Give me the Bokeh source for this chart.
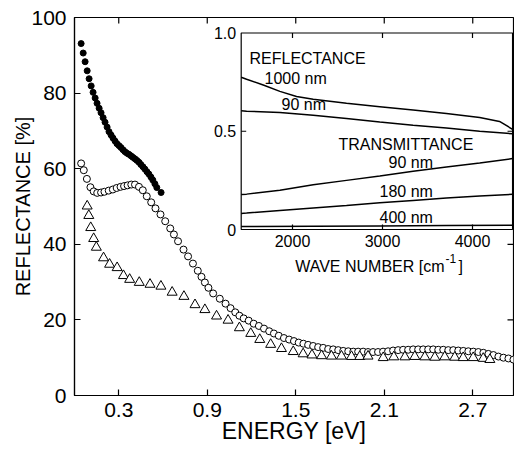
import math
from bokeh.plotting import figure
from bokeh.models import Range1d, FixedTicker
from bokeh.embed import file_html
from bokeh.resources import INLINE
from bokeh.core.properties import value

FONT = "Liberation Sans"

# ---------------- main panel data (energy eV, reflectance %) ----------------
filled_E = [0.045, 0.059, 0.072, 0.086, 0.099, 0.113, 0.126, 0.140, 0.153, 0.167,
            0.180, 0.194, 0.207, 0.221, 0.234, 0.248, 0.261, 0.275, 0.288, 0.302,
            0.315, 0.329, 0.342, 0.356, 0.369, 0.383, 0.396, 0.410, 0.423, 0.437,
            0.450, 0.464, 0.477, 0.491, 0.504, 0.518, 0.531, 0.545, 0.558, 0.587]
filled_R = [93.1, 90.6, 88.3, 85.9, 83.8, 81.9, 80.2, 78.7, 77.3, 76.0,
            74.8, 73.5, 72.3, 71.0, 69.8, 68.9, 68.1, 67.3, 66.6, 66.1,
            65.6, 65.0, 64.5, 64.1, 63.8, 63.4, 63.0, 62.6, 62.2, 61.7,
            61.1, 60.5, 59.9, 59.2, 58.6, 57.8, 57.0, 56.0, 55.0, 53.7]

open_E = [0.045, 0.063, 0.084, 0.108, 0.130, 0.154, 0.180, 0.203, 0.232, 0.260,
          0.286, 0.312, 0.336, 0.360, 0.385, 0.410, 0.437, 0.463, 0.490, 0.520,
          0.549, 0.583, 0.615, 0.649, 0.674, 0.702, 0.739, 0.770, 0.803, 0.836,
          0.861, 0.884, 0.908, 0.940, 0.985, 1.024, 1.058, 1.090, 1.118, 1.147,
          1.181, 1.215, 1.250, 1.285, 1.320, 1.352, 1.385, 1.420, 1.455, 1.488,
          1.520, 1.552, 1.584, 1.618, 1.652, 1.686, 1.720, 1.754, 1.788, 1.822,
          1.856, 1.890, 1.923, 1.957, 1.990, 2.024, 2.058, 2.092, 2.126, 2.160,
          2.194, 2.228, 2.262, 2.296, 2.330, 2.364, 2.398, 2.432, 2.466, 2.500,
          2.534, 2.568, 2.602, 2.636, 2.670, 2.704, 2.738, 2.772, 2.806, 2.840,
          2.874, 2.908, 2.942, 2.976]
open_R = [61.4, 59.6, 57.3, 55.1, 54.0, 53.6, 53.7, 53.9, 54.2, 54.5,
          54.9, 55.2, 55.4, 55.6, 55.8, 55.8, 55.2, 54.3, 52.7, 51.1,
          49.5, 47.9, 46.1, 44.2, 42.6, 40.8, 38.6, 36.8, 34.9, 33.0,
          31.4, 29.9, 28.5, 27.0, 25.6, 24.3, 23.1, 22.0, 21.1, 20.4,
          19.8, 19.0, 18.4, 17.7, 17.0, 16.4, 15.8, 15.2, 14.8, 14.4,
          14.0, 13.7, 13.4, 13.1, 12.8, 12.6, 12.3, 12.2, 12.0, 11.8,
          11.7, 11.6, 11.6, 11.6, 11.5, 11.5, 11.5, 11.6, 11.7, 11.9,
          12.0, 12.1, 12.1, 12.2, 12.2, 12.2, 12.2, 12.2, 12.1, 12.1,
          12.0, 12.0, 11.9, 11.8, 11.7, 11.6, 11.5, 11.3, 11.0, 10.7,
          10.3, 10.0, 9.8, 9.5]

tri_E = [0.086, 0.097, 0.110, 0.130, 0.148, 0.197, 0.238, 0.289, 0.332, 0.374,
         0.439, 0.512, 0.586, 0.662, 0.742, 0.817, 0.884, 0.963, 1.041, 1.118,
         1.195, 1.256, 1.330, 1.403, 1.483, 1.550, 1.610, 1.675, 1.742, 1.810,
         1.878, 1.934, 1.990, 2.093, 2.165, 2.240, 2.307, 2.375, 2.443, 2.510,
         2.578, 2.635, 2.703, 2.771, 2.816]
tri_R = [50.1, 47.6, 44.4, 41.5, 39.2, 36.4, 34.7, 33.8, 31.7, 30.7,
         29.9, 29.4, 28.9, 27.3, 26.2, 24.0, 22.7, 21.0, 19.9, 17.9,
         16.4, 14.8, 13.5, 12.4, 11.6, 11.0, 10.7, 10.5, 10.4, 10.4,
         10.3, 10.3, 10.4, 10.0, 10.2, 10.2, 10.3, 10.2, 10.1, 10.2,
         10.1, 10.0, 10.0, 9.8, 9.5]

x_ticks = [0.3, 0.9, 1.5, 2.1, 2.7]
y_ticks = [0, 20, 40, 60, 80, 100]

# ---------------- inset data (wave number cm-1, fraction) ----------------
wn_R1000 = [1430, 1490, 1675, 1860, 2045, 2230, 2600, 2970, 3340, 3710, 4080, 4300, 4445]
R1000 = [0.775, 0.765, 0.735, 0.703, 0.677, 0.663, 0.642, 0.625, 0.608, 0.590, 0.570, 0.550, 0.510]
wn_R90 = [1430, 1490, 1860, 2230, 2600, 2970, 3340, 3710, 4080, 4445]
R90 = [0.604, 0.602, 0.595, 0.582, 0.565, 0.547, 0.531, 0.517, 0.500, 0.487]
wn_T90 = [1430, 1490, 1860, 2230, 2600, 2970, 3340, 3710, 4080, 4445]
T90 = [0.178, 0.180, 0.200, 0.228, 0.250, 0.272, 0.296, 0.318, 0.338, 0.361]
wn_T180 = [1430, 1490, 1860, 2230, 2600, 2970, 3340, 3710, 4080, 4445]
T180 = [0.082, 0.084, 0.097, 0.110, 0.122, 0.136, 0.148, 0.160, 0.170, 0.179]
wn_T400 = [1430, 2230, 2970, 3710, 4445]
T400 = [0.015, 0.016, 0.018, 0.020, 0.022]

inset_xticks = [2000, 3000, 4000]
inset_xlabels = ["2000", "3000", "4000"]
inset_yticks = [0, 0.5, 1.0]
inset_ylabels = ["0", "0.5", "1.0"]
inset_xlim = [1430, 4445]
inset_ylim = [0, 1]

inset_texts = ["REFLECTANCE", "1000 nm", "90 nm", "TRANSMITTANCE", "90 nm", "180 nm", "400 nm"]
inset_text_x = [1522, 1689, 1878, 2511, 3067, 2967, 2967]
inset_text_y = [0.872, 0.770, 0.638, 0.434, 0.342, 0.194, 0.061]

# ---------------- layout ----------------
FRAME_W, FRAME_H = 439, 378
PX_PER_EV = 147.5
PX_PER_R = 3.78
PX_PER_WN = 0.09
PX_PER_FRAC = 196.5
WN_REF_PX = 218            # pixel offset of 2000 cm-1 from frame left
ZERO_PX_FROM_BOTTOM = 166  # pixel offset of inset 0 from frame bottom

p = figure(frame_width=FRAME_W, frame_height=FRAME_H, output_backend="svg", toolbar_location=None,
           x_range=Range1d(0, FRAME_W / PX_PER_EV), y_range=Range1d(0, FRAME_H / PX_PER_R),
           min_border_left=74, min_border_right=1, min_border_top=17, min_border_bottom=30)
p.background_fill_color = "white"
p.border_fill_color = "white"
p.grid.visible = False
p.outline_line_color = "black"
p.outline_line_width = 1.2

ix0 = 2000 - WN_REF_PX / PX_PER_WN
iy0 = -ZERO_PX_FROM_BOTTOM / PX_PER_FRAC
p.extra_x_ranges = {"ix": Range1d(ix0, ix0 + FRAME_W / PX_PER_WN)}
p.extra_y_ranges = {"iy": Range1d(iy0, iy0 + FRAME_H / PX_PER_FRAC)}

for ax in (p.xaxis[0], p.yaxis[0]):
    ax.axis_line_color = "black"
    ax.axis_line_width = 1.2
    ax.major_tick_in = 6
    ax.major_tick_out = 0
    ax.minor_tick_line_color = None
    ax.major_tick_line_color = "black"
    ax.major_tick_line_width = 1.2
    ax.major_label_text_font = FONT
    ax.major_label_text_font_size = "21px"
    ax.major_label_text_color = "black"
    ax.axis_label_text_font = FONT
    ax.axis_label_text_font_style = "normal"
    ax.axis_label_text_color = "black"

p.xaxis.ticker = FixedTicker(ticks=x_ticks)
p.yaxis.ticker = FixedTicker(ticks=y_ticks)
p.xaxis.axis_label = "ENERGY [eV]"
p.yaxis.axis_label = "REFLECTANCE [%]"
p.xaxis.axis_label_text_font_size = "23px"
p.yaxis.axis_label_text_font_size = "20px"
p.xaxis.major_label_standoff = 7
p.yaxis.major_label_standoff = 8
p.xaxis.axis_label_standoff = -2
p.yaxis.axis_label_standoff = -6

# mirrored ticks on top and right edges
x_end = FRAME_W / PX_PER_EV
y_end = FRAME_H / PX_PER_R
p.ray(x=x_ticks, y=[y_end] * len(x_ticks), length=6, length_units="screen",
      angle=-math.pi / 2, line_color="black", line_width=1.2)
p.ray(x=[x_end] * len(y_ticks[1:-1]), y=y_ticks[1:-1], length=6, length_units="screen",
      angle=math.pi, line_color="black", line_width=1.2)

# main data
p.scatter(filled_E, filled_R, marker="circle", size=6, fill_color="black", line_color="black")
p.scatter(open_E, open_R, marker="circle", size=7, fill_color="white", line_color="black", line_width=1)
p.scatter(tri_E, tri_R, marker="triangle", size=10, fill_color="white", line_color="black", line_width=1)

# ---------------- inset ----------------
R = dict(x_range_name="ix", y_range_name="iy")
p.quad(left=[inset_xlim[0]], right=[inset_xlim[1]], bottom=[inset_ylim[0]], top=[inset_ylim[1]],
       fill_color="white", line_color="black", line_width=1.2, **R)
for wx, wy in ((wn_R1000, R1000), (wn_R90, R90), (wn_T90, T90), (wn_T180, T180), (wn_T400, T400)):
    p.line(wx, wy, line_color="black", line_width=1.5, **R)

n = len(inset_xticks)
p.ray(x=inset_xticks, y=[inset_ylim[0]] * n, length=5, length_units="screen", angle=math.pi / 2,
      line_color="black", line_width=1.2, **R)
p.ray(x=inset_xticks, y=[inset_ylim[1]] * n, length=5, length_units="screen", angle=-math.pi / 2,
      line_color="black", line_width=1.2, **R)
p.ray(x=[inset_xlim[0]], y=[inset_yticks[1]], length=5, length_units="screen", angle=0,
      line_color="black", line_width=1.2, **R)
p.ray(x=[inset_xlim[1]], y=[inset_yticks[1]], length=5, length_units="screen", angle=math.pi,
      line_color="black", line_width=1.2, **R)

p.text(x=inset_xticks, y=[inset_ylim[0]] * n, text=inset_xlabels, text_align="center",
       text_baseline="top", y_offset=5, text_font=value(FONT), text_font_size="16px",
       text_color="black", **R)
p.text(x=[inset_xlim[0]] * 3, y=inset_yticks, text=inset_ylabels, text_align="right",
       text_baseline="middle", x_offset=-5, text_font=value(FONT), text_font_size="16px",
       text_color="black", **R)
p.text(x=inset_text_x, y=inset_text_y, text=inset_texts, text_align="left", text_baseline="middle",
       text_font=value(FONT), text_font_size="16px", text_color="black", **R)

# inset axis title with superscript
p.text(x=[3689], y=[-0.19], text=["WAVE NUMBER [cm"], text_align="right", text_baseline="alphabetic",
       text_font=value(FONT), text_font_size="16px", text_color="black", **R)
p.text(x=[3689], y=[-0.149], text=["-1"], text_align="left", text_baseline="alphabetic", x_offset=1,
       text_font=value(FONT), text_font_size="12px", text_color="black", **R)
p.text(x=[3689], y=[-0.19], text=["]"], text_align="left", text_baseline="alphabetic", x_offset=14,
       text_font=value(FONT), text_font_size="16px", text_color="black", **R)

open("out.html", "w").write(file_html(p, INLINE))
